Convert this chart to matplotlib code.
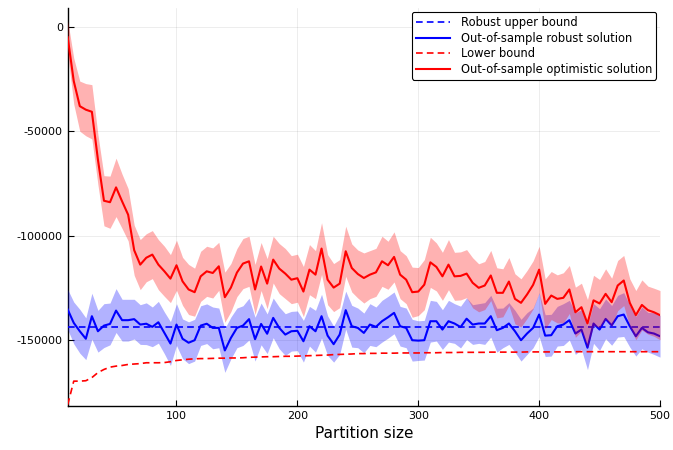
import matplotlib
matplotlib.use("Agg")
import matplotlib.pyplot as plt
import numpy as np

plt.rcParams['axes.unicode_minus'] = False
plt.rcParams['font.family'] = ['DejaVu Sans']

partition = list(range(10, 505, 5))

robust_upper = [-144000] * len(partition)

robust_oos = [-135400, -141800, -145800, -149400, -138600, -145800, -143100, -142300, -135900, -140500,
              -140500, -140000, -142600, -142200, -143700, -141500, -146600, -151700, -142600, -149400,
              -151300, -150100, -143100, -142200, -144200, -144200, -155000, -149000, -144200, -143100,
              -140000, -149600, -142300, -147000, -139400, -144200, -147400, -145800, -145600, -150600,
              -143400, -145800, -138600, -147900, -152000, -147400, -135700, -143400, -144200, -146600,
              -142600, -143700, -141000, -139100, -137000, -143400, -144200, -150100, -150300, -150100,
              -141000, -141000, -145000, -141000, -142100, -143800, -139800, -142600, -142100, -142100,
              -138600, -145300, -144200, -142100, -145800, -150100, -146900, -144200, -137800, -147900,
              -147700, -143400, -142600, -140500, -146900, -145000, -153700, -142100, -145000, -139900,
              -143000, -138600, -137800, -143400, -148200, -144200, -146300, -146900, -148200]

robust_hw = [9600, 10000, 10500, 10000, 11000, 10000, 10500, 10000, 10500, 10000,
             10000, 9500, 9500, 10000, 9500, 10000, 10000, 10500, 10000, 9500,
             10000, 10000, 9500, 9500, 10000, 9500, 10500, 10000, 9500, 9500,
             10000, 10500, 10000, 9500, 9500, 10000, 10000, 9500, 9500, 10000,
             9500, 10000, 10500, 9500, 8600, 9500, 9100, 10000, 9500, 9500,
             10000, 9500, 10000, 10000, 10000, 9500, 9500, 10000, 9500, 9500,
             10000, 9500, 9500, 10000, 9500, 10000, 10000, 9500, 9500, 10000,
             10000, 10500, 9500, 10000, 10000, 10000, 10000, 9500, 10500, 10000,
             10000, 9500, 10000, 9500, 10000, 9500, 10500, 9500, 10000, 9500,
             9500, 10000, 10500, 10000, 9500, 10000, 9500, 10000, 10000]

lower_bound = [-181000, -169700, -169700, -169500, -168000, -165600, -164100, -163000, -162500, -162200,
               -161700, -161500, -161300, -160900, -160900, -160900, -160800, -160400, -159800, -159500,
               -159200, -159000, -158900, -158900, -158800, -158700, -158700, -158600, -158600, -158500,
               -158300, -158200, -158100, -158000, -158000, -157900, -157800, -157800, -157700, -157600,
               -157500, -157400, -157300, -157200, -157000, -156900, -156800, -156700, -156500, -156500,
               -156400, -156400, -156300, -156300, -156300, -156200, -156200, -156200, -156200, -156100,
               -156100, -156100, -156000, -156000, -156000, -155900, -155900, -155900, -155900, -155900,
               -155800, -155800, -155800, -155800, -155800, -155800, -155700, -155700, -155700, -155700,
               -155700, -155700, -155700, -155700, -155600, -155600, -155600, -155600, -155600, -155600,
               -155600, -155600, -155600, -155600, -155600, -155600, -155600, -155600, -155600]

optimistic_oos = [-5000, -26000, -38000, -39700, -40700, -63600, -83300, -84000, -76900, -83600,
                  -90000, -107000, -113900, -110600, -109100, -113900, -117100, -120600, -114200, -121900,
                  -125800, -127100, -119500, -117100, -117900, -114700, -129500, -124900, -117700, -113400,
                  -112300, -125800, -114800, -123000, -111500, -115800, -118200, -121100, -120400, -126800,
                  -116300, -118700, -106200, -121100, -124900, -123000, -107500, -115500, -118400, -120300,
                  -118700, -117600, -112300, -114200, -110200, -118700, -121100, -127100, -126800, -123500,
                  -112800, -115000, -119500, -113900, -119500, -119300, -118200, -122600, -125000, -123900,
                  -119100, -127400, -127400, -122000, -130300, -132200, -128200, -123600, -116300, -132700,
                  -128700, -130300, -129800, -125800, -136700, -134300, -142100, -131000, -132500, -127900,
                  -131900, -123900, -121500, -132200, -138100, -133200, -135700, -136700, -138100]

optimistic_hw = [8000, 11000, 12000, 12500, 13000, 12000, 12000, 12500, 14000, 13000,
                 12500, 12000, 12000, 11500, 11500, 12000, 12000, 11500, 12000, 11500,
                 12000, 11500, 12000, 12000, 12000, 11500, 12000, 11500, 11500, 12000,
                 12000, 12000, 11500, 12000, 11200, 12000, 12000, 11500, 11500, 12000,
                 12000, 11500, 12400, 12000, 11500, 11500, 12000, 11500, 11500, 12000,
                 11500, 11500, 12000, 11500, 12000, 11500, 11500, 12000, 11500, 12000,
                 12000, 11500, 11500, 12000, 11500, 11500, 11500, 12000, 11500, 11500,
                 12000, 12000, 11500, 11500, 12000, 11500, 11500, 11500, 11200, 12000,
                 11500, 11500, 12000, 11500, 12000, 11500, 11500, 12000, 11500, 12000,
                 11500, 12000, 12000, 11500, 11800, 12000, 11500, 11500, 11800]

ylim = (-181600, 9000)
yticks = [0, -50000, -100000, -150000]
xticks = [100, 200, 300, 400, 500]

fig = plt.figure(figsize=(6.73, 4.5), dpi=100)
ax = fig.add_axes([0.1006, 0.0978, 0.8801, 0.8844])

x = np.array(partition)
rob = np.array(robust_oos); rhw = np.array(robust_hw)
opt = np.array(optimistic_oos); ohw = np.array(optimistic_hw)

ax.plot(x, robust_upper, color=(0, 0, 1), ls=(0, (4, 2.5)), lw=1.2, label='Robust upper bound', zorder=3)
ax.fill_between(x, rob - rhw, rob + rhw, color=(0, 0, 1), alpha=0.3, lw=0, zorder=3)
ax.plot(x, rob, color=(0, 0, 1), lw=1.5, label='Out-of-sample robust solution', zorder=3)
ax.plot(x, lower_bound, color=(1, 0, 0), ls=(0, (4, 2.5)), lw=1.2, label='Lower bound', zorder=3)
ax.fill_between(x, opt - ohw, opt + ohw, color=(1, 0, 0), alpha=0.3, lw=0, zorder=3)
ax.plot(x, opt, color=(1, 0, 0), lw=1.5, label='Out-of-sample optimistic solution', zorder=3)

ax.set_xlim(10, 500)
ax.set_ylim(*ylim)
ax.set_xticks(xticks)
ax.set_yticks(yticks)
ax.set_yticklabels([str(v) for v in yticks])
ax.tick_params(direction='in', length=4, width=0.8, labelsize=8, colors='black')
ax.grid(True, color='black', alpha=0.1, lw=0.5)
ax.set_axisbelow(True)
for s in ['top', 'right']:
    ax.spines[s].set_visible(False)
for s in ['left', 'bottom']:
    ax.spines[s].set_linewidth(1.0)
ax.set_xlabel('Partition size', fontsize=11)

leg = ax.legend(loc='upper right', fontsize=8.3, frameon=True, fancybox=True,
                borderaxespad=0.35, handlelength=3.0, labelspacing=0.22, borderpad=0.35,
                handletextpad=0.9)
leg.get_frame().set_edgecolor('black')
leg.get_frame().set_linewidth(0.8)
leg.get_frame().set_alpha(1)

fig.savefig('out.png', dpi=100)
